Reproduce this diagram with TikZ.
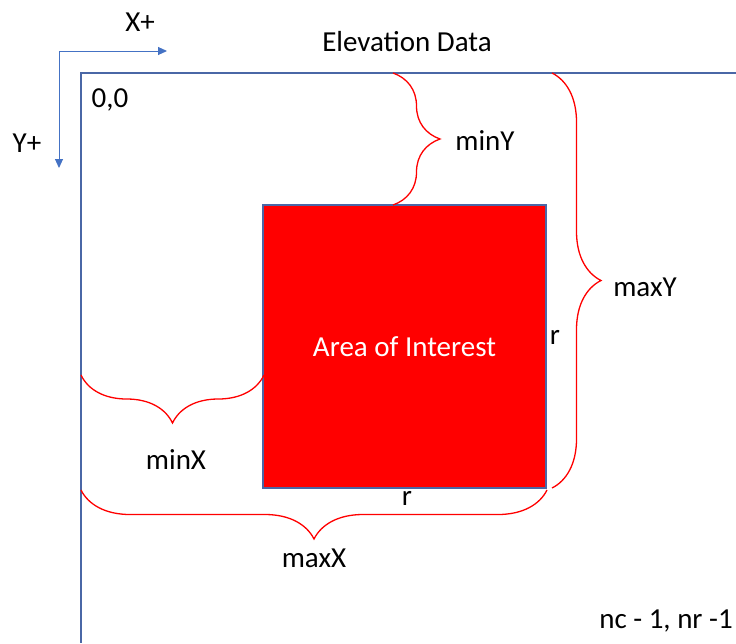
\documentclass[tikz,border=0pt]{standalone}
\usepackage{fontspec}
\setmainfont{Carlito}
\usetikzlibrary{arrows.meta,decorations.pathreplacing}
\definecolor{axisblue}{HTML}{4472C4}
\definecolor{frameblue}{HTML}{4A67A6}
\tikzset{
  lbl/.style={font=\fontsize{29}{35}\selectfont, inner sep=0pt, anchor=base},
  curly/.style={draw=red, line width=1.3pt, decorate, decoration={brace, amplitude=#1}},
}

\begin{document}
\begin{tikzpicture}[x=1pt, y=-1pt, >={Triangle[length=9pt, width=8pt]}]
    \useasboundingbox (0,0) rectangle (736,643);
    \coordinate (O) at (59,51);
    \coordinate (Xp) at (167,51);
    \coordinate (Yp) at (59,168);
    \coordinate (TL) at (81,73);
    \coordinate (TR) at (736,73);
    \coordinate (BL) at (81,643);

    \draw[frameblue, line width=1.3pt] (TR) -- (TL) -- (BL);
    \draw[->, axisblue, line width=1pt] (O) -- (Xp);
    \draw[->, axisblue, line width=1pt] (O) -- (Yp);

    \node[fill=red, draw=frameblue, line width=1.3pt, minimum width=283pt, minimum height=283pt,
          inner sep=0pt, text=white, font=\fontsize{29}{35}\selectfont] (aoi) at (404.5,346.5) {Area of Interest};

    \coordinate (minYa) at (393,73);
    \coordinate (minYb) at (393,205);
    \coordinate (maxYa) at (552,73);
    \coordinate (maxYb) at (552,488);
    \coordinate (minXa) at (81,375);
    \coordinate (minXb) at (264,375);
    \coordinate (maxXa) at (81,490);
    \coordinate (maxXb) at (547,490);

    \draw[curly=47pt] (minYa) -- (minYb);
    \draw[curly=49pt] (maxYa) -- (maxYb);
    \draw[curly=48pt, decoration={mirror}] (minXa) -- (minXb);
    \draw[curly=49pt, decoration={mirror}] (maxXa) -- (maxXb);

    \node[lbl] (xlbl) at (140,31) {X+};
    \node[lbl] (ylbl) at (27,152) {Y+};
    \node[lbl] (orig) at (110,107) {0,0};
    \node[lbl] (title) at (407,51) {Elevation Data};
    \node[lbl] (miny) at (485,150) {minY};
    \node[lbl] (maxy) at (645,296) {maxY};
    \node[lbl] (minx) at (176,469) {minX};
    \node[lbl] (maxx) at (314,567) {maxX};
    \node[lbl] (rside) at (555,344) {r};
    \node[lbl] (rbot) at (407,505) {r};
    \node[lbl] (far) at (666,628) {nc - 1, nr -1};
\end{tikzpicture}
\end{document}
